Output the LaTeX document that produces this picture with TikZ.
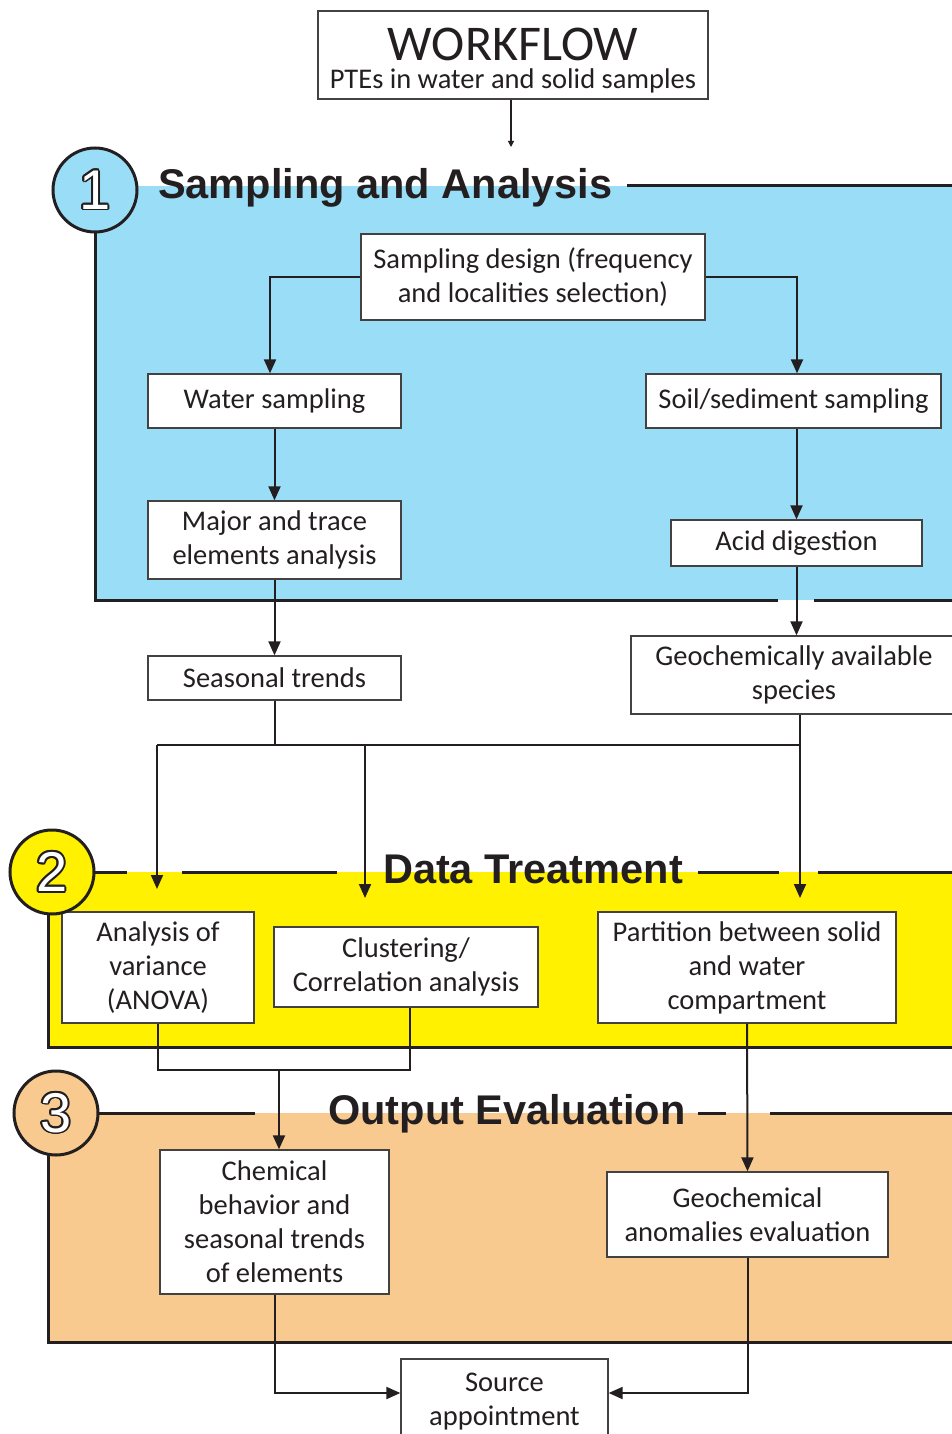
\documentclass[tikz,border=0pt]{standalone}
\usepackage{fontspec}
\setmainfont{Carlito}
\newfontfamily\headfont{Liberation Sans}
\usetikzlibrary{arrows.meta,calc}
\definecolor{ink}{HTML}{231F20}
\definecolor{secblue}{RGB}{153,221,247}
\definecolor{secyellow}{RGB}{255,241,0}
\definecolor{secorange}{RGB}{249,202,143}
\newcommand{\outlinedigit}[2]{%
  \foreach \a in {0,22.5,...,337.5}{\node[digit,text=ink] at ($(#1)+(\a:1.7pt)$) {#2};}
  \node[digit,text=white] at (#1) {#2};}
\begin{document}
\begin{tikzpicture}[x=1pt,y=-1pt,
  box/.style={draw=ink!85,line width=1.3pt,fill=white,align=center,inner sep=0pt,
    font=\fontsize{28.5}{34}\selectfont,text=ink},
  conn/.style={draw=ink,line width=2pt},
  arr/.style={conn,-{Triangle[length=14pt,width=12pt]}},
  border/.style={draw=ink,line width=3pt},
  head/.style={font=\headfont\bfseries\fontsize{41.5}{48}\selectfont,text=ink,inner sep=0pt},
  numcirc/.style={circle,draw=ink,line width=3pt,minimum size=84pt,inner sep=0pt},
  digit/.style={font=\headfont\fontsize{56}{60}\selectfont,inner sep=0pt},
  ]
\useasboundingbox (0,0) rectangle (952,1434);
\clip (0,0) rectangle (952,1434);

% section backgrounds
\fill[secblue] (95,186) rectangle (960,600);
\fill[secyellow] (48,872) rectangle (960,1047);
\fill[secorange] (48,1113) rectangle (960,1342);

% section borders
\draw[border] (627,186) -- (960,186);
\draw[border] (95,230) -- (95,600) -- (778,600);
\draw[border] (814,600) -- (960,600);
\draw[border] (91,872) -- (127,872);
\draw[border] (182,872) -- (337,872);
\draw[border] (698,872) -- (779,872);
\draw[border] (818,872) -- (960,872);
\draw[border] (48,912) -- (48,1047) -- (960,1047);
\draw[border] (97,1113) -- (255,1113);
\draw[border] (698,1113) -- (726,1113);
\draw[border] (770,1113) -- (960,1113);
\draw[border] (48,1153) -- (48,1342) -- (960,1342);

% boxes
\node[box,minimum width=390pt,minimum height=88pt] (wf) at (513,55)
  {\rule{0pt}{44pt}{\fontsize{50}{50}\selectfont WORKFLOW}\\[-6pt]PTEs in water and solid samples};
\node[box,minimum width=344pt,minimum height=86pt] (sd) at (533,277)
  {Sampling design (frequency\\and localities selection)};
\node[box,minimum width=253pt,minimum height=54pt] (ws) at (274.5,401) {Water sampling};
\node[box,minimum width=295pt,minimum height=54pt] (ss) at (793.5,401) {Soil/sediment sampling};
\node[box,minimum width=253pt,minimum height=78pt] (mt) at (274.5,540)
  {Major and trace\\elements analysis};
\node[box,minimum width=251pt,minimum height=46pt] (ad) at (796.5,543) {Acid digestion};
\node[box,minimum width=326pt,minimum height=78pt] (gs) at (794,675)
  {Geochemically available\\species};
\node[box,minimum width=253pt,minimum height=44pt] (st) at (274.5,678) {Seasonal trends};
\node[box,minimum width=192pt,minimum height=111pt] (av) at (158,967.5)
  {Analysis of\\variance\\(ANOVA)};
\node[box,minimum width=264pt,minimum height=80pt] (cl) at (406,967)
  {Clustering/\\Correlation analysis};
\node[box,minimum width=298pt,minimum height=111pt] (pb) at (747,967.5)
  {Partition between solid\\and water\\compartment};
\node[box,minimum width=229pt,minimum height=144pt] (cb) at (274.5,1222)
  {Chemical\\behavior and\\seasonal trends\\of elements};
\node[box,minimum width=281pt,minimum height=85pt] (ga) at (747.5,1214.5)
  {Geochemical\\anomalies evaluation};
\node[box,minimum width=207pt,minimum height=86pt] (sa) at (504.5,1402)
  {Source\\appointment};

% helper coordinates
\coordinate (wfend) at (511,147);
\coordinate (hL) at (157,745);
\coordinate (hR) at (800,745);
\coordinate (a1) at (157,889);
\coordinate (a2) at (365,898);
\coordinate (a3) at (800,898);
\coordinate (jb) at (279,1070);

% connectors
\draw[draw=ink,line width=1.2pt,-{Triangle[length=6pt,width=6pt]}] (wf.south -| wfend) -- (wfend);
\draw[arr] (sd.west) -| ([xshift=-4.5pt]ws.north);
\draw[arr] (sd.east) -| ([xshift=3.5pt]ss.north);
\draw[arr] (ws.south) -- (mt.north);
\draw[arr] (ad.north |- ss.south) -- (ad.north);
\draw[arr] (ad.south) -- (ad.south |- gs.north);
\draw[arr] (mt.south) -- (st.north);
\draw[conn] (hL) -- (hR);
\draw[conn] (st.south) -- (st.south |- hL);
\draw[arr] (hL) -- (a1);
\draw[arr] (a2 |- hL) -- (a2);
\draw[arr] (a3 |- gs.south) -- (a3);
\draw[conn] (av.south) |- (jb) -| ([xshift=4pt]cl.south);
\draw[arr] (jb) -- (jb |- cb.north);
\draw[arr] (pb.south) -- (ga.north);
\draw[arr] (cb.south) |- ([yshift=9pt]sa.west);
\draw[arr] (ga.south) |- ([yshift=9pt]sa.east);

% numbered circles
\node[numcirc,fill=secblue] (c1) at (95,190) {};
\outlinedigit{c1.center}{1}
\node[numcirc,fill=secyellow] (c2) at (52,872) {};
\outlinedigit{c2.center}{2}
\node[numcirc,fill=secorange] (c3) at (56,1113) {};
\outlinedigit{c3.center}{3}

% headings
\node[head,anchor=base west] (h1) at (158,199) {Sampling and Analysis};
\node[head,anchor=base] (h2) at (533,883) {Data Treatment};
\node[head,anchor=base] (h3) at (507,1124) {Output Evaluation};
\end{tikzpicture}
\end{document}
